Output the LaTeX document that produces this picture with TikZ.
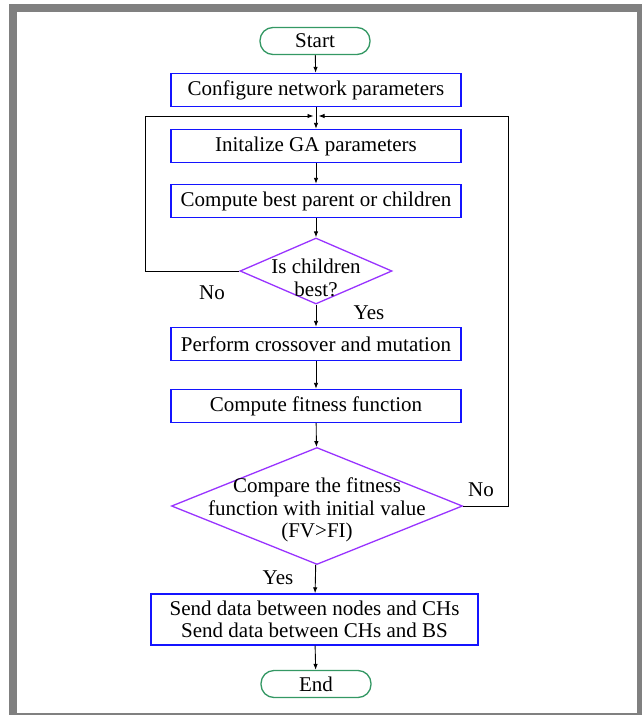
\documentclass[tikz,border=0pt]{standalone}
\usepackage{fontspec}
\setmainfont{Liberation Serif}
\usetikzlibrary{shapes.geometric,arrows.meta}
\definecolor{boxblue}{RGB}{20,20,255}
\definecolor{decviolet}{RGB}{153,51,255}
\definecolor{termgreen}{RGB}{52,152,100}
\definecolor{framegray}{RGB}{128,128,128}
\tikzset{
  procbox/.style={draw=boxblue,line width=1.4pt,minimum width=290pt,minimum height=33pt,inner sep=0pt},
  decbox/.style={diamond,draw=decviolet,line width=1.3pt,inner sep=0pt},
  termbox/.style={draw=termgreen,line width=1.3pt,rounded corners=13pt,minimum width=110pt,minimum height=27pt,inner sep=0pt},
  arr/.style={-{Latex[length=6pt,width=4.5pt]},line width=0.9pt},
}
\begin{document}
\begin{tikzpicture}[x=1pt,y=-1pt,font=\fontsize{21}{22.5}\selectfont]
\useasboundingbox (0,0) rectangle (642,715);
\fill[framegray] (9,4) rectangle (642,715);
\fill[white] (17,12) rectangle (637,713);
% boxes
\node[termbox] (start) at (315,41) {Start};
\node[procbox] (conf) at (316,90) {Configure network parameters};
\coordinate (jn) at (316,116);
\node[procbox] (init) at (316,146) {Initalize GA parameters};
\node[procbox] (best) at (316,201) {Compute best parent or children};
\node[decbox,minimum width=152pt,minimum height=66pt] (d1) at (316,271) {};
\node[align=center] (d1t) at (316,278) {Is children\\best?};
\node[procbox] (cross) at (316,344) {Perform crossover and mutation};
\node[procbox] (fit) at (316,406) {Compute fitness function};
\node[decbox,minimum width=291pt,minimum height=117pt] (d2) at (317,506) {};
\node[align=center] (d2t) at (317,510) {Compare the fitness\\function with initial value\\(FV>FI)};
\node[procbox,minimum width=327pt,minimum height=51pt,align=center] (send) at (314.5,619.5) {Send data between nodes and CHs\\Send data between CHs and BS};
\node[termbox] (end) at (316,684) {End};
% labels
\node (no1) at (212,293) {No};
\node (yes1) at (369,313) {Yes};
\node (no2) at (481,490) {No};
\node (yes2) at (278,578) {Yes};
% arrows
\draw[arr] (start) -- (conf);
\draw[arr] (conf) -- (init);
\draw[arr] (init) -- (best);
\draw[arr] (best) -- (d1);
\draw[arr] (d1) -- (cross);
\draw[arr] (cross) -- (fit);
\draw[arr] (fit) -- (d2);
\draw[arr] (d2) -- (send);
\draw[arr] (send) -- (end);
\draw[arr] (d1.west) -- ++(-94,0) |- ([xshift=-2.5pt]jn);
\draw[arr] (d2.east) -- ++(45,0) |- ([xshift=2.5pt]jn);
\end{tikzpicture}
\end{document}
